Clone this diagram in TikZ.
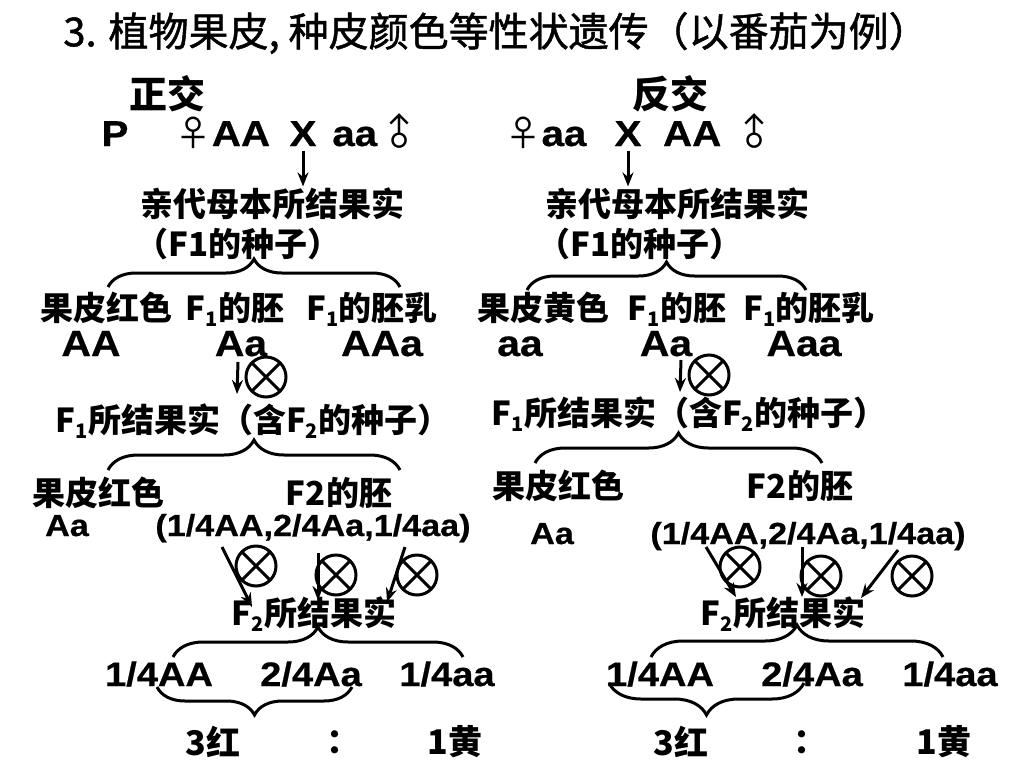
\documentclass[tikz,border=0pt]{standalone}
\usepackage{fontspec}
\setmainfont{Liberation Sans}
\newfontfamily\genefont{Liberation Sans}[FakeStretch=1.12, FakeBold=0.6]
\newfontfamily\cjk{Noto Sans CJK SC}
\newfontfamily\cjktitle{Noto Sans CJK SC}[FakeBold=1.2]
\usetikzlibrary{arrows.meta,decorations.pathreplacing}
\newcommand{\lowsub}[1]{\raisebox{-6pt}[0pt][0pt]{\fontsize{20}{20}\selectfont #1}}
\newcommand{\fem}{{\cjk\mdseries ♀}}
\newcommand{\mal}{{\cjk\mdseries\rotatebox[origin=c]{45}{♂}}}

\begin{document}
\begin{tikzpicture}[x=1pt, y=-1pt, line width=3pt,
        >={Stealth[length=14pt,width=11pt]},
        zh/.style={font=\cjk\bfseries\fontsize{33}{36}\selectfont, inner sep=0pt},
        zhbig/.style={font=\cjk\bfseries\fontsize{38}{40}\selectfont, inner sep=0pt},
        zhend/.style={font=\cjk\bfseries\fontsize{34}{36}\selectfont, inner sep=0pt},
        gene/.style={font=\genefont\bfseries\fontsize{#1}{40}\selectfont, inner sep=0pt, anchor=base},
        gene/.default=36.5pt,
        selfing/.style={draw, circle, minimum size=40pt, inner sep=0pt,
            path picture={\draw[line width=3pt]
                (path picture bounding box.north west) -- (path picture bounding box.south east)
                (path picture bounding box.north east) -- (path picture bounding box.south west);}},
        cbrace/.style={decorate, decoration={brace, amplitude=#1}},
        cbrace/.default=28pt]
        \useasboundingbox (0, 0) rectangle (1024, 768);

        \node[inner sep=0pt, font=\cjktitle\fontsize{40}{42}\selectfont] at (496, 33) (title) {3. 植物果皮, 种皮颜色等性状遗传（以番茄为例）};

        % left: 正交
        \node[zhbig] at (167, 94) (crossL) {正交};
        \node[gene=36pt] at (115, 146) (pL) {P};
        \node[gene=36pt] at (223, 146) (momL) {\fem AA};
        \node[gene=36pt] at (303, 146) (xL) {X};
        \node[gene=36pt] at (377, 146) (dadL) {aa\mal};
        \node[zh] at (272, 204) (qinL) {亲代母本所结果实};
        \node[zh] at (238, 244) (seedL) {（F1的种子）};
        \node[zh] at (106, 308) (skinL) {果皮红色};
        \node[zh] at (235, 308) (embL) {F\lowsub{1}的胚};
        \node[zh] at (372, 308) (endoL) {F\lowsub{1}的胚乳};
        \node[gene] at (91, 356) (gSkinL) {AA};
        \node[gene] at (241, 356) (gEmbL) {Aa};
        \node[gene] at (382, 356) (gEndoL) {AAa};
        \node[selfing] at (266, 377) (selfL) {};
        \node[zh] at (253, 420) (fruitL) {F\lowsub{1}所结果实（含F\lowsub{2}的种子）};
        \node[zh] at (98, 493) (skin2L) {果皮红色};
        \node[zh] at (339, 493) (emb2L) {F2的胚};
        \node[gene=30.5pt] at (67, 536) (gSkin2L) {Aa};
        \node[gene=30.5pt] at (313, 536) (ratioL) {(1/4AA,2/4Aa,1/4aa)};
        \node[selfing] at (256, 566) (selfAAL) {};
        \node[selfing] at (336, 575) (selfAaL) {};
        \node[selfing] at (417, 575) (selfaaL) {};
        \node[zh] at (314, 613) (fruit2L) {F\lowsub{2}所结果实};
        \node[gene=34pt] at (159, 686) (oneAAL) {1/4AA};
        \node[gene=34pt] at (311, 686) (twoAaL) {2/4Aa};
        \node[gene=34pt] at (447, 686) (oneaaL) {1/4aa};
        \node[zhend] at (213, 742) (redL) {3红};
        \node[zhend] at (343, 742) (colonL) {：};
        \node[zhend] at (455, 742) (yellowL) {1黄};

        % right: 反交
        \node[zhbig] at (670, 94) (crossR) {反交};
        \node[gene=36pt] at (546, 146) (momR) {\fem aa};
        \node[gene=36pt] at (628, 146) (xR) {X};
        \node[gene=36pt] at (720, 146) (dadR) {AA \mal};
        \node[zh] at (677, 204) (qinR) {亲代母本所结果实};
        \node[zh] at (640, 244) (seedR) {（F1的种子）};
        \node[zh] at (543, 308) (skinR) {果皮黄色};
        \node[zh] at (677, 308) (embR) {F\lowsub{1}的胚};
        \node[zh] at (809, 308) (endoR) {F\lowsub{1}的胚乳};
        \node[gene] at (520, 356) (gSkinR) {aa};
        \node[gene] at (666, 356) (gEmbR) {Aa};
        \node[gene] at (804, 356) (gEndoR) {Aaa};
        \node[selfing] at (709, 375) (selfR) {};
        \node[zh] at (689, 413) (fruitR) {F\lowsub{1}所结果实（含F\lowsub{2}的种子）};
        \node[zh] at (558, 486) (skin2R) {果皮红色};
        \node[zh] at (800, 486) (emb2R) {F2的胚};
        \node[gene=30.5pt] at (552, 544) (gSkin2R) {Aa};
        \node[gene=30.5pt] at (808, 544) (ratioR) {(1/4AA,2/4Aa,1/4aa)};
        \node[selfing] at (740, 567) (selfAAR) {};
        \node[selfing] at (821, 576) (selfAaR) {};
        \node[selfing] at (912, 576) (selfaaR) {};
        \node[zh] at (783, 613) (fruit2R) {F\lowsub{2}所结果实};
        \node[gene=34pt] at (660, 686) (oneAAR) {1/4AA};
        \node[gene=34pt] at (812, 686) (twoAaR) {2/4Aa};
        \node[gene=34pt] at (950, 686) (oneaaR) {1/4aa};
        \node[zhend] at (681, 742) (redR) {3红};
        \node[zhend] at (810, 742) (colonR) {：};
        \node[zhend] at (944, 742) (yellowR) {1黄};

        % arrow ends next to the selfing marks
        \coordinate (f1sL) at (238, 362);
        \coordinate (f1eL) at (237, 394);
        \coordinate (f1sR) at (681, 360);
        \coordinate (f1eR) at (680, 392);
        \coordinate (AAsL) at (222, 547);
        \coordinate (AAeL) at (252, 607);
        \coordinate (AasL) at (318, 553);
        \coordinate (AaeL) at (318, 600);
        \coordinate (aasL) at (405, 547);
        \coordinate (aaeL) at (387, 602);
        \coordinate (AAsR) at (706, 547);
        \coordinate (AAeR) at (736, 597);
        \coordinate (AasR) at (802, 547);
        \coordinate (AaeR) at (802, 597);
        \coordinate (aasR) at (898, 550);
        \coordinate (aaeR) at (861, 598);

        \draw[->] (xL.south) ++(0, 3) -- (xL.south |- qinL.north);
        \draw[->] (xR.south) ++(0, 3) -- (xR.south |- qinR.north);
        \draw[->] (f1sL) -- (f1eL);
        \draw[->] (f1sR) -- (f1eR);
        \draw[->] (AAsL) -- (AAeL);
        \draw[->] (AasL) -- (AaeL);
        \draw[->] (aasL) -- (aaeL);
        \draw[->] (AAsR) -- (AAeR);
        \draw[->] (AasR) -- (AaeR);
        \draw[->] (aasR) -- (aaeR);

        % braces
        \draw[cbrace] (108, 287) -- (400, 287);
        \draw[cbrace] (527, 290) -- (806, 290);
        \draw[cbrace=30pt] (108, 470) -- (400, 470);
        \draw[cbrace=30pt] (535, 463) -- (822, 463);
        \draw[cbrace=30pt] (173, 657) -- (463, 657);
        \draw[cbrace=32pt] (651, 657) -- (943, 657);
        \draw[cbrace] (352, 687) -- (157, 687);
        \draw[cbrace=32pt] (804, 683) -- (609, 683);

        \end{tikzpicture}
\end{document}
